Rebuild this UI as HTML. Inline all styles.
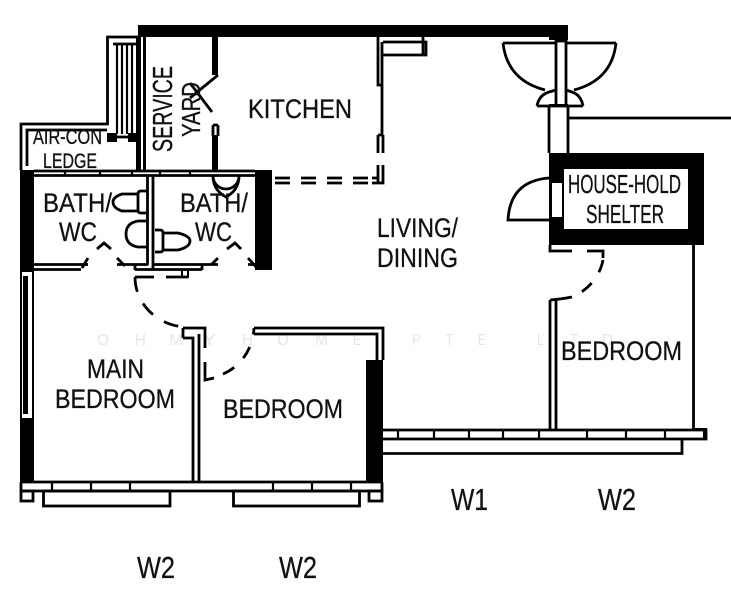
<!DOCTYPE html>
<html>
<head>
<meta charset="utf-8">
<style>
html,body{margin:0;padding:0;background:#fff;}
svg{display:block;}
text{font-family:"Liberation Sans",sans-serif;fill:#111;stroke:#111;stroke-width:.3;}
.l{fill:none;stroke:#000;stroke-width:2.8;}
.t{fill:none;stroke:#000;stroke-width:2.2;}
.k{fill:#000;}
.w{fill:#fff;}
text.wm{fill:#e6e6e6;stroke:none;font-size:16px;}
</style>
</head>
<body>
<svg width="731" height="600" viewBox="0 0 731 600" xmlns="http://www.w3.org/2000/svg">
<rect width="731" height="600" fill="#fff"/>

<!-- watermark -->
<text class="wm" x="97" y="345" textLength="12" lengthAdjust="spacingAndGlyphs">O</text>
<text class="wm" x="135" y="345" textLength="11" lengthAdjust="spacingAndGlyphs">H</text>
<text class="wm" x="169" y="345" textLength="14" lengthAdjust="spacingAndGlyphs">M</text>
<text class="wm" x="203" y="345" textLength="13" lengthAdjust="spacingAndGlyphs">Y</text>
<text class="wm" x="242" y="345" textLength="11" lengthAdjust="spacingAndGlyphs">H</text>
<text class="wm" x="277" y="345" textLength="12" lengthAdjust="spacingAndGlyphs">O</text>
<text class="wm" x="315" y="345" textLength="13" lengthAdjust="spacingAndGlyphs">M</text>
<text class="wm" x="353" y="345" textLength="8" lengthAdjust="spacingAndGlyphs">E</text>
<text class="wm" x="412" y="345" textLength="9" lengthAdjust="spacingAndGlyphs">P</text>
<text class="wm" x="445" y="345" textLength="9" lengthAdjust="spacingAndGlyphs">T</text>
<text class="wm" x="478" y="345" textLength="8" lengthAdjust="spacingAndGlyphs">E</text>
<text class="wm" x="537" y="345" textLength="7" lengthAdjust="spacingAndGlyphs">L</text>
<text class="wm" x="570" y="345" textLength="8" lengthAdjust="spacingAndGlyphs">T</text>
<text class="wm" x="602" y="345" textLength="11" lengthAdjust="spacingAndGlyphs">D</text>

<!-- top wall -->
<rect class="k" x="138" y="25" width="430" height="12"/>

<!-- AC ledge + louvres -->
<path class="l" d="M21 170V124H107.500V37H138"/>
<path class="l" d="M27 166V130H107"/>
<path class="l" d="M113 44H136"/>
<path class="t" d="M117 44V134M122 44V134M127 44V134M132 44V134"/>
<rect class="k" x="107" y="133" width="10" height="9"/>
<rect class="k" x="128" y="133" width="9" height="9"/>
<path class="l" d="M117 137H128"/>

<!-- service yard wall -->
<rect class="k" x="136" y="37" width="5" height="133"/>
<rect class="k" x="143" y="37" width="3" height="133"/>

<!-- kitchen / service yard wall -->
<rect class="k" x="212" y="37" width="6" height="38"/>
<path class="l" d="M218 75L190 98M212 112L190 83"/>
<path class="l" d="M213 125V136M218 125V136M213 125H218"/>
<rect class="k" x="212" y="135" width="6" height="35"/>

<!-- Kitchen/living wall -->
<path class="l" d="M378 37V85H382M382 42V135"/>
<path class="l" d="M383 42H426V55H383M423 37V55"/>
<path class="l" d="M378 135V153M383 135V153M378 135H383"/>
<path class="l" d="M378 165V182M383 165V183H372M378 178H372"/>
<path class="l" stroke-dasharray="15 11" d="M368 178H272M368 183H272"/>
<path class="l" d="M255 178H272M255 183H272"/>

<!-- bath block -->
<rect class="k" x="20" y="170" width="14" height="100"/>
<rect class="k" x="255" y="170" width="17" height="100"/>
<path class="l" d="M34 171H255M34 175.500H255"/>
<path class="t" d="M65 171V175M100 171V175M132 171V175M160 171V175M190 171V175"/>
<path class="l" d="M147.500 175V265M153 175V270"/>
<path class="l" d="M34 264.500H88M117 264.500H148M153 264.500H218M248 264.500H255"/>
<path class="l" d="M34 269.500H81M135 269.500H202M135 264.500V270M202 264.500V270"/>
<path class="l" d="M82 268L88 258M117 258L125 266M212 264L218 258M248 258L257 268"/>
<path class="l" d="M97 249L104 243L111 249M227 249L235 243L241 249"/>

<!-- fixtures -->
<path class="l" d="M148 191H141Q138 191 138 194V210Q138 213 141 213H148"/>
<path class="l" d="M138 194H122Q113 197 113 202Q113 208 122 211H138"/>
<path class="l" d="M148 221H138Q126 223 126 234Q126 245 138 247H148"/>
<path class="l" d="M155 230H160Q163 230 163 233V249Q163 252 160 252H155"/>
<path class="l" d="M163 233H178Q190 236 190 241Q190 247 178 250H163"/>
<path class="l" d="M213 176A13 13 0 0 0 239 176Q239 190 226 197Q213 190 213 176"/>

<!-- door dash main bedroom -->
<rect class="w" x="182" y="270" width="6" height="7" stroke="#000" stroke-width="2"/>
<path class="l" d="M135 277H154M166 277H188"/>
<path class="l" stroke-dasharray="15 13" d="M135 277A53 50 0 0 0 190 327"/>

<!-- mid wall lower bedrooms -->
<path class="l" d="M183 328H205V348M183 338H193V482M199 334V482M183 328V338"/>
<path class="l" d="M205 362V380L214 378"/>
<path class="l" stroke-dasharray="13 13" d="M223 374A50 52 0 0 0 254 328"/>

<!-- bedroom top wall -->
<path class="l" d="M254 328H383V360M254 334H377V360"/>
<rect class="k" x="366" y="360" width="17" height="122"/>

<!-- left lower wall -->
<rect class="k" x="20" y="270" width="14" height="212"/>
<rect class="w" x="22" y="272" width="10" height="146"/>
<rect class="k" x="23" y="276" width="5" height="138"/>

<!-- bottom ledge -->
<path class="l" d="M21 482H382M21 491H382M21 482V491M382 482V491"/>
<path class="t" d="M52 482V491M91 482V491M130 482V491M273 482V491M312 482V491M351 482V491"/>
<rect class="l" x="21" y="491" width="12" height="10" fill="#fff"/>
<rect class="l" x="43.500" y="491" width="126.500" height="15"/>
<rect class="l" x="233.500" y="491" width="126" height="15"/>
<rect class="l" x="369" y="491" width="13" height="10"/>

<!-- right balcony -->
<path class="l" d="M383 430H706V439H383"/>
<rect class="k" x="693" y="428" width="14" height="3"/>
<rect class="k" x="703" y="428" width="4" height="12"/>
<path class="t" d="M398 430V439M434 430V439M469 430V439M503 430V439M539 430V439M587 430V439M626 430V439M665 430V439"/>
<path class="l" d="M383 453.500H682V439"/>

<!-- right column and door swings -->
<path class="l" d="M549 106V153M568 106V153"/>
<rect class="k" x="549" y="37" width="19" height="3"/>
<rect class="l" x="556" y="41" width="10" height="65" fill="#fff"/>
<rect class="k" x="549" y="104" width="19" height="3"/>
<path class="l" d="M503 43H556"/>
<path class="l" d="M503 43Q507 80 545 90"/>
<path class="l" d="M566 43H616"/>
<path class="l" d="M616 43Q612 80 574 90"/>
<path class="l" d="M537 106H556M537 106Q539 95 549 92L556 90"/>
<path class="l" d="M566 106H583M583 106Q581 95 572 92L566 90"/>
<path class="l" d="M568 118H731"/>

<!-- shelter -->
<rect class="k" x="549" y="153" width="155" height="92"/>
<rect class="w" x="564" y="169" width="124" height="60"/>
<rect class="w" x="552" y="183" width="10" height="34"/>
<path class="l" d="M549 178Q510 181 508 220H549"/>

<!-- door below shelter -->
<path class="l" d="M550 245V251H572M587 251H603V258"/>
<path class="l" stroke-dasharray="13 13" d="M603 260A53 50 0 0 1 572 297"/>
<path class="l" d="M572 297Q562 299 550 300"/>
<path class="l" d="M550 300V430M556 300V430"/>
<path class="l" d="M693.500 245V430"/>

<!-- labels -->
<text font-size="27" x="248" y="118" textLength="104" lengthAdjust="spacingAndGlyphs">KITCHEN</text>
<text font-size="27" x="377" y="237" textLength="81" lengthAdjust="spacingAndGlyphs">LIVING/</text>
<text font-size="27" x="377" y="267" textLength="81" lengthAdjust="spacingAndGlyphs">DINING</text>
<text font-size="26" x="568" y="193" textLength="113" lengthAdjust="spacingAndGlyphs">HOUSE-HOLD</text>
<text font-size="26" x="586" y="223" textLength="78" lengthAdjust="spacingAndGlyphs">SHELTER</text>
<text font-size="28" transform="translate(172 152) rotate(-90)" textLength="86" lengthAdjust="spacingAndGlyphs">SERVICE</text>
<text font-size="26" transform="translate(200 137) rotate(-90)" textLength="55" lengthAdjust="spacingAndGlyphs">YARD</text>
<text font-size="21" x="33" y="144" textLength="69" lengthAdjust="spacingAndGlyphs">AIR-CON</text>
<text font-size="21" x="43" y="168" textLength="54" lengthAdjust="spacingAndGlyphs">LEDGE</text>
<text font-size="27" x="43" y="212" textLength="69" lengthAdjust="spacingAndGlyphs">BATH/</text>
<text font-size="27" x="59" y="241" textLength="38" lengthAdjust="spacingAndGlyphs">WC</text>
<text font-size="27" x="180" y="212" textLength="68" lengthAdjust="spacingAndGlyphs">BATH/</text>
<text font-size="27" x="195" y="241" textLength="37" lengthAdjust="spacingAndGlyphs">WC</text>
<text font-size="27" x="87" y="378" textLength="57" lengthAdjust="spacingAndGlyphs">MAIN</text>
<text font-size="27" x="55" y="408" textLength="120" lengthAdjust="spacingAndGlyphs">BEDROOM</text>
<text font-size="27" x="223" y="418" textLength="120" lengthAdjust="spacingAndGlyphs">BEDROOM</text>
<text font-size="27" x="561" y="360" textLength="121" lengthAdjust="spacingAndGlyphs">BEDROOM</text>
<text font-size="31" x="451" y="510" textLength="37" lengthAdjust="spacingAndGlyphs">W1</text>
<text font-size="31" x="598" y="510" textLength="38" lengthAdjust="spacingAndGlyphs">W2</text>
<text font-size="31" x="137" y="578" textLength="38" lengthAdjust="spacingAndGlyphs">W2</text>
<text font-size="31" x="279" y="578" textLength="38" lengthAdjust="spacingAndGlyphs">W2</text>
</svg>
</body>
</html>
